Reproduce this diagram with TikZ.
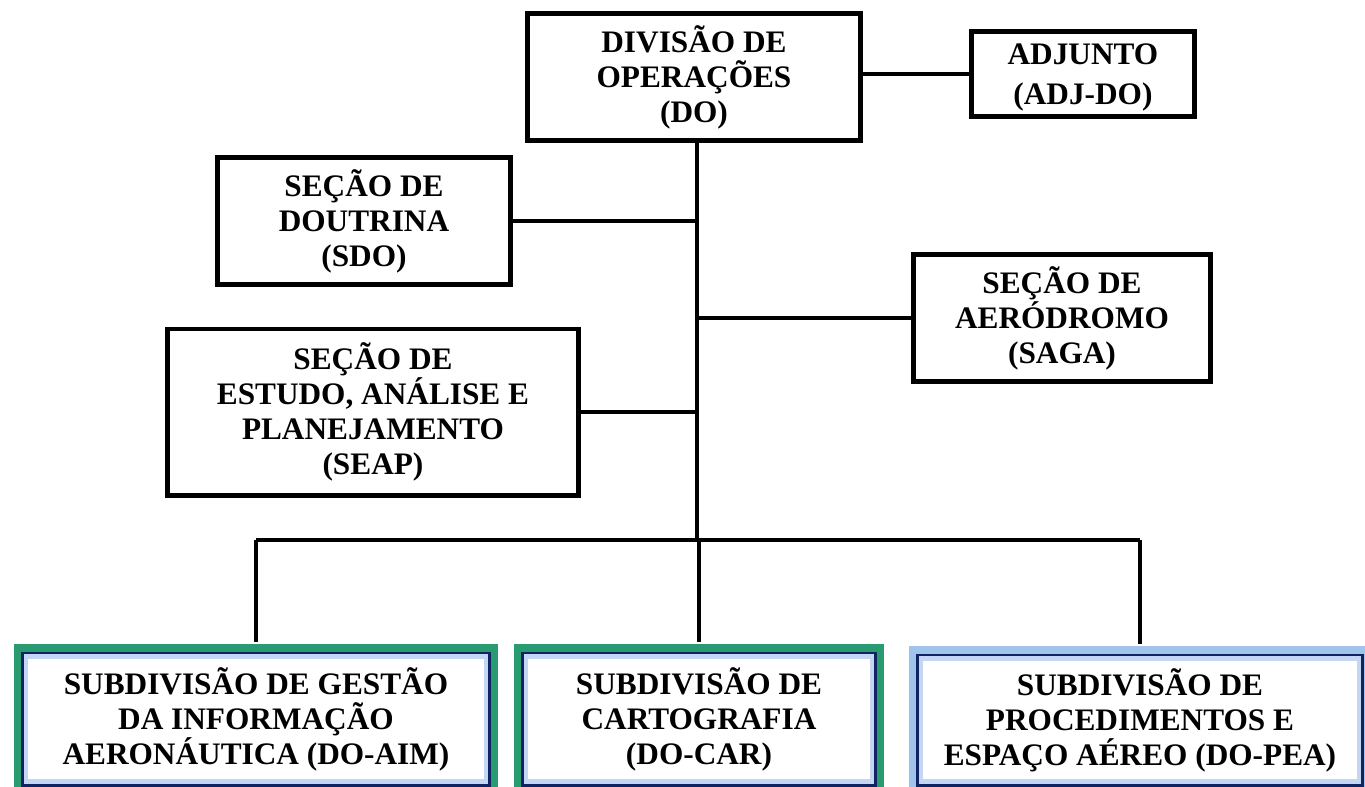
\documentclass[tikz,border=0pt]{standalone}
\usepackage{fontspec}
\setmainfont{Liberation Serif}
\usepackage{tikz}
\usetikzlibrary{calc, positioning}
\definecolor{navy}{RGB}{16,36,98}
\definecolor{frgreen}{RGB}{40,156,112}
\definecolor{frblue}{RGB}{160,196,236}
\definecolor{glow}{RGB}{196,214,244}
\tikzset{
  unit/.style={draw, line width=1.4pt, fill=white, align=center,
    font=\bfseries\fontsize{8.9}{9.93}\selectfont},
  subunit/.style={unit, draw=navy, preaction={draw=#1, line width=5.4pt}},
  link/.style={line width=1.2pt}
}

\begin{document}
\begin{tikzpicture}[x=0.01cm, y=-0.01cm]
        \useasboundingbox (0,0) rectangle (1365,787);

		\node[unit, minimum width=3.32cm, minimum height=1.21cm] (DO) at (694,77) {DIVIS\~AO DE\\OPERA\c{C}\~OES\\(DO)};
		\node[unit, minimum width=2.23cm, minimum height=0.82cm, text depth=0pt] (ADJ) at (1083,74) {ADJUNTO\\[1.5pt](ADJ-DO)};
		\node[unit, minimum width=2.92cm, minimum height=1.21cm] (SDO) at (364,221) {SE\c{C}\~AO DE\\DOUTRINA\\(SDO)};
		\node[unit, minimum width=2.96cm, minimum height=1.23cm] (SAGA) at (1062,318) {SE\c{C}\~AO DE\\AER\'ODROMO\\(SAGA)};
		\node[unit, minimum width=4.11cm, minimum height=1.66cm] (SEAP) at (373,412) {SE\c{C}\~AO DE\\ESTUDO, AN\'ALISE E\\PLANEJAMENTO\\(SEAP)};

		\coordinate (bus) at (697,540);

		\node[subunit=frgreen, minimum width=4.65cm, minimum height=1.30cm] (AIM) at (256,719) {SUBDIVIS\~AO DE GEST\~AO\\DA INFORMA\c{C}\~AO\\AERON\'AUTICA (DO-AIM)};
		\node[subunit=frgreen, minimum width=3.50cm, minimum height=1.30cm] (CAR) at (699,719) {SUBDIVIS\~AO DE\\CARTOGRAFIA\\(DO-CAR)};
		\node[subunit=frblue, minimum width=4.43cm, minimum height=1.28cm] (PEA) at (1140,720) {SUBDIVIS\~AO DE\\PROCEDIMENTOS E\\ESPA\c{C}O A\'EREO (DO-PEA)};

		% inner glow of the subdivisions
		\foreach \n in {AIM,CAR,PEA}
		\draw[glow, line width=1.2pt] ($(\n.north west)+(1.4pt,-1.4pt)$) rectangle ($(\n.south east)+(-1.4pt,1.4pt)$);

		\draw[link] (DO.south -| bus) -- (bus);
		\draw[link] (ADJ.west) -- (ADJ.west -| DO.east);
		\foreach \n in {SDO,SEAP}
		\draw[link] (\n.east) -- (\n.east -| bus);
		\draw[link] (SAGA.west) -- (SAGA.west -| bus);

		\draw[link] (AIM.north |- bus) -- (PEA.north |- bus);
		\foreach \n in {AIM,CAR,PEA}
		\draw[link, shorten >=2.6pt] (\n.north |- bus) -- (\n.north);

	\end{tikzpicture}
\end{document}
